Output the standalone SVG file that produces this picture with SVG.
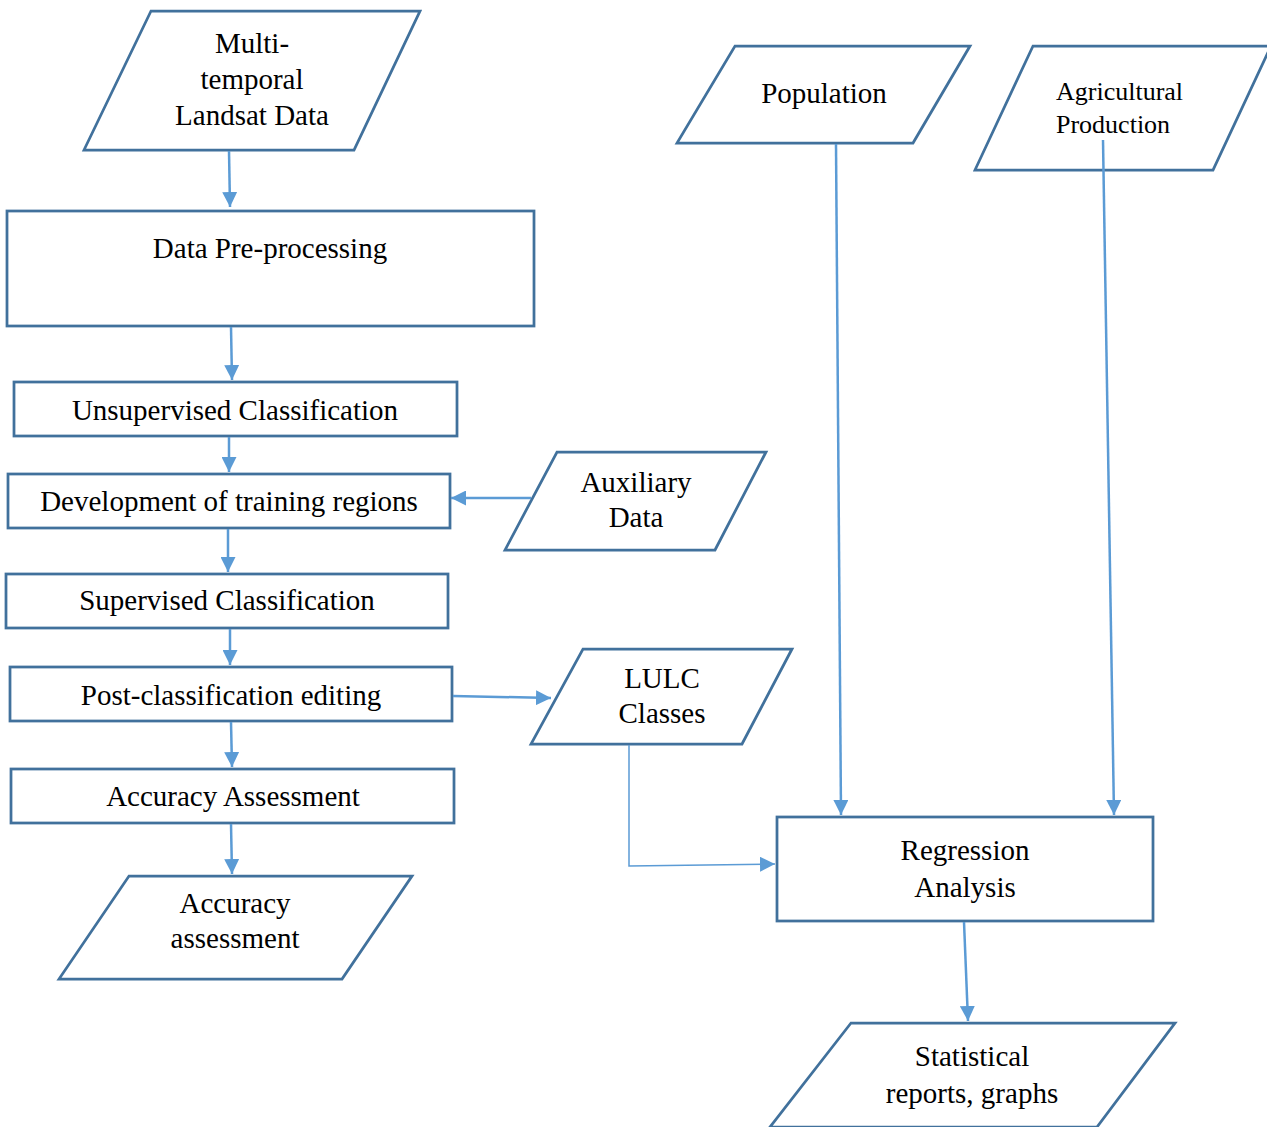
<svg xmlns="http://www.w3.org/2000/svg" width="1267" height="1127" viewBox="0 0 1267 1127">
<defs>
<style>
.n{fill:#fff;stroke:#41719C;stroke-width:2.75}
.t{font-family:"Liberation Serif","Times New Roman",serif;font-size:29px;fill:#000;text-anchor:middle}
.ts{font-family:"Liberation Serif","Times New Roman",serif;font-size:26px;fill:#000}
.c{fill:none;stroke:#5B9BD5;stroke-width:2.5}
.c1{fill:none;stroke:#5B9BD5;stroke-width:1.5}
</style>
<marker id="ah" markerUnits="userSpaceOnUse" markerWidth="15" markerHeight="15" refX="15" refY="7.5" orient="auto">
<path d="M0,0 L15,7.5 L0,15 z" fill="#5B9BD5"/>
</marker>
</defs>
<rect width="1267" height="1127" fill="#fff"/>

<g id="multi">
<polygon class="n" points="151,11 420,11 354,150 84,150"/>
<text class="t" x="252" y="53">Multi-</text>
<text class="t" x="252" y="89">temporal</text>
<text class="t" x="252" y="125">Landsat Data</text>
</g>
<g id="preproc">
<rect class="n" x="7" y="211" width="527" height="115"/>
<text class="t" x="270" y="258">Data Pre-processing</text>
</g>
<g id="unsup">
<rect class="n" x="14" y="382" width="443" height="54"/>
<text class="t" x="235" y="420">Unsupervised Classification</text>
</g>
<g id="dev">
<rect class="n" x="8" y="474" width="442" height="54"/>
<text class="t" x="229" y="511">Development of training regions</text>
</g>
<g id="aux">
<polygon class="n" points="557,452 766,452 715,550 505,550"/>
<text class="t" x="636" y="492">Auxiliary</text>
<text class="t" x="636" y="527">Data</text>
</g>
<g id="sup">
<rect class="n" x="6" y="574" width="442" height="54"/>
<text class="t" x="227" y="610">Supervised Classification</text>
</g>
<g id="post">
<rect class="n" x="10" y="667" width="442" height="54"/>
<text class="t" x="231" y="705">Post-classification editing</text>
</g>
<g id="lulc">
<polygon class="n" points="583,649 792,649 742,744 531,744"/>
<text class="t" x="662" y="688">LULC</text>
<text class="t" x="662" y="723">Classes</text>
</g>
<g id="accA">
<rect class="n" x="11" y="769" width="443" height="54"/>
<text class="t" x="233" y="806">Accuracy Assessment</text>
</g>
<g id="accB">
<polygon class="n" points="129,876 412,876 342,979 59,979"/>
<text class="t" x="235" y="913">Accuracy</text>
<text class="t" x="235" y="948">assessment</text>
</g>
<g id="pop">
<polygon class="n" points="735,46 970,46 913,143 677,143"/>
<text class="t" x="824" y="103">Population</text>
</g>
<g id="agri">
<polygon class="n" points="1033,46 1271,46 1213,170 975,170"/>
<text class="ts" x="1056" y="100">Agricultural</text>
<text class="ts" x="1056" y="133">Production</text>
</g>
<g id="regr">
<rect class="n" x="777" y="817" width="376" height="104"/>
<text class="t" x="965" y="860">Regression</text>
<text class="t" x="965" y="897">Analysis</text>
</g>
<g id="stat">
<polygon class="n" points="851,1023 1175,1023 1097,1127 770,1127"/>
<text class="t" x="972" y="1066">Statistical</text>
<text class="t" x="972" y="1103">reports, graphs</text>
</g>

<g id="connectors">
<path class="c" d="M229,151 L230,207" marker-end="url(#ah)"/>
<path class="c" d="M231,327 L232,380" marker-end="url(#ah)"/>
<path class="c" d="M229,437 L229,472" marker-end="url(#ah)"/>
<path class="c" d="M228,529 L228,572" marker-end="url(#ah)"/>
<path class="c" d="M230,629 L230,665" marker-end="url(#ah)"/>
<path class="c" d="M231,722 L232,767" marker-end="url(#ah)"/>
<path class="c" d="M231,824 L232,874" marker-end="url(#ah)"/>
<path class="c" d="M531,498 L451,498" marker-end="url(#ah)"/>
<path class="c" d="M453,696 L551,698" marker-end="url(#ah)"/>
<path class="c1" d="M629,745 L629,866 L775,864" marker-end="url(#ah)"/>
<path class="c" d="M836,144 L841,815" marker-end="url(#ah)"/>
<path class="c" d="M1103,140 L1114,815" marker-end="url(#ah)"/>
<path class="c" d="M964,922 L968,1021" marker-end="url(#ah)"/>
</g>
</svg>
